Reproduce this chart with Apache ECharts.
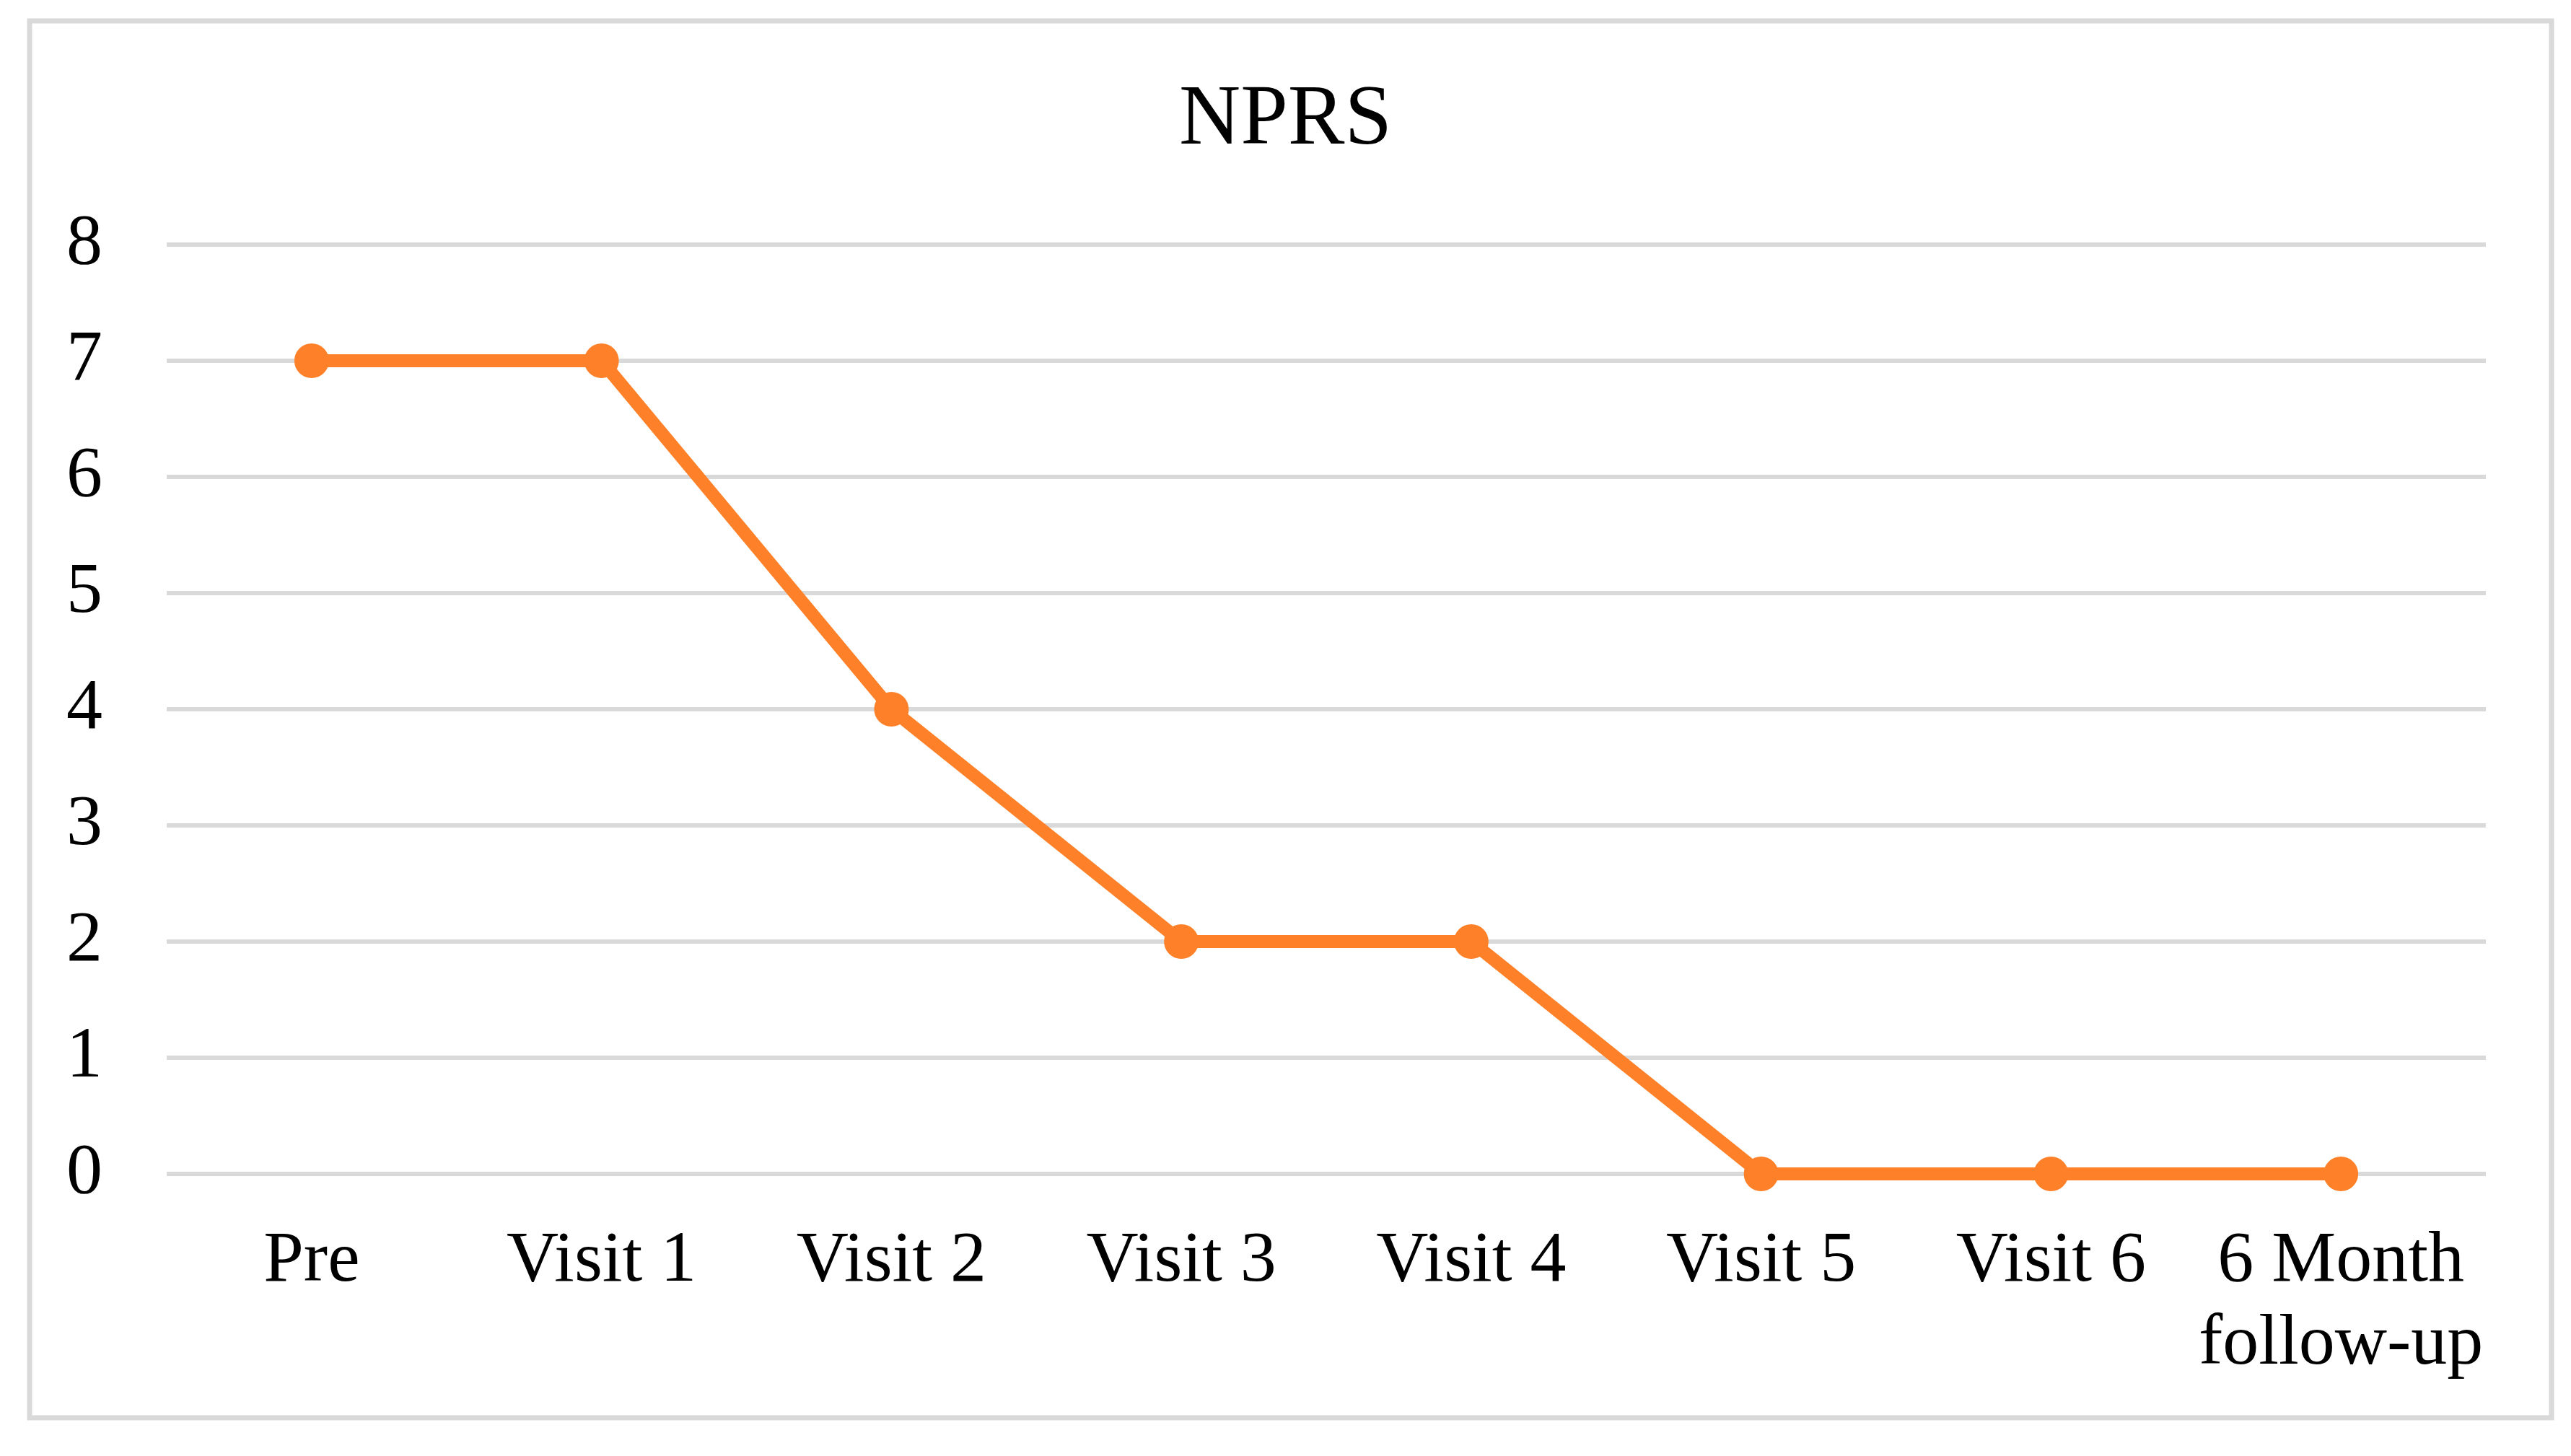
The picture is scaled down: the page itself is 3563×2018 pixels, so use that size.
<!DOCTYPE html>
<html>
<head>
<meta charset="utf-8">
<script src="https://cdn.jsdelivr.net/npm/echarts@6/dist/echarts.min.js"></script>
<style>
  html, body { margin: 0; padding: 0; background: #fff; }
  #chart { width: 3563px; height: 2018px; }
</style>
</head>
<body>
<div id="chart"></div>
<script>
// 数据
const categories = ["Pre", "Visit 1", "Visit 2", "Visit 3", "Visit 4", "Visit 5", "Visit 6", "6 Month\nfollow-up"];
const nprsValues = [7, 7, 4, 2, 2, 0, 0, 0];
const yMin = 0;
const yMax = 8;
const yStep = 1;

const font = "Liberation Serif";
const orange = "#FE8028";
const gridGray = "#D9D9D9";

const chart = echarts.init(document.getElementById("chart"));
chart.setOption({
  backgroundColor: "#fff",
  animation: false,
  title: {
    text: "NPRS",
    left: "center",
    top: 104,
    textStyle: {
      fontFamily: font,
      fontSize: 118,
      fontWeight: "normal",
      color: "#000",
    },
  },
  // 外边框
  graphic: [
    {
      type: "rect",
      shape: { x: 41, y: 29, width: 3495, height: 1936 },
      style: { fill: "none", stroke: gridGray, lineWidth: 7 },
      silent: true,
    },
  ],
  grid: {
    left: 231,
    right: 118,
    top: 339,
    bottom: 391,
  },
  xAxis: {
    type: "category",
    data: categories,
    boundaryGap: true,
    axisLine: { show: false },
    axisTick: { show: false },
    axisLabel: {
      interval: 0,
      margin: 64,
      fontFamily: font,
      fontSize: 100,
      lineHeight: 115,
      color: "#000",
    },
  },
  yAxis: {
    type: "value",
    min: yMin,
    max: yMax,
    interval: yStep,
    axisLine: { show: false },
    axisTick: { show: false },
    axisLabel: {
      margin: 89,
      fontFamily: font,
      fontSize: 100,
      color: "#000",
    },
    splitLine: {
      lineStyle: { color: gridGray, width: 6 },
    },
  },
  series: [
    {
      name: "NPRS",
      type: "line",
      data: nprsValues,
      symbol: "circle",
      symbolSize: 48,
      lineStyle: { color: orange, width: 18 },
      itemStyle: { color: orange },
    },
  ],
});
</script>
</body>
</html>
